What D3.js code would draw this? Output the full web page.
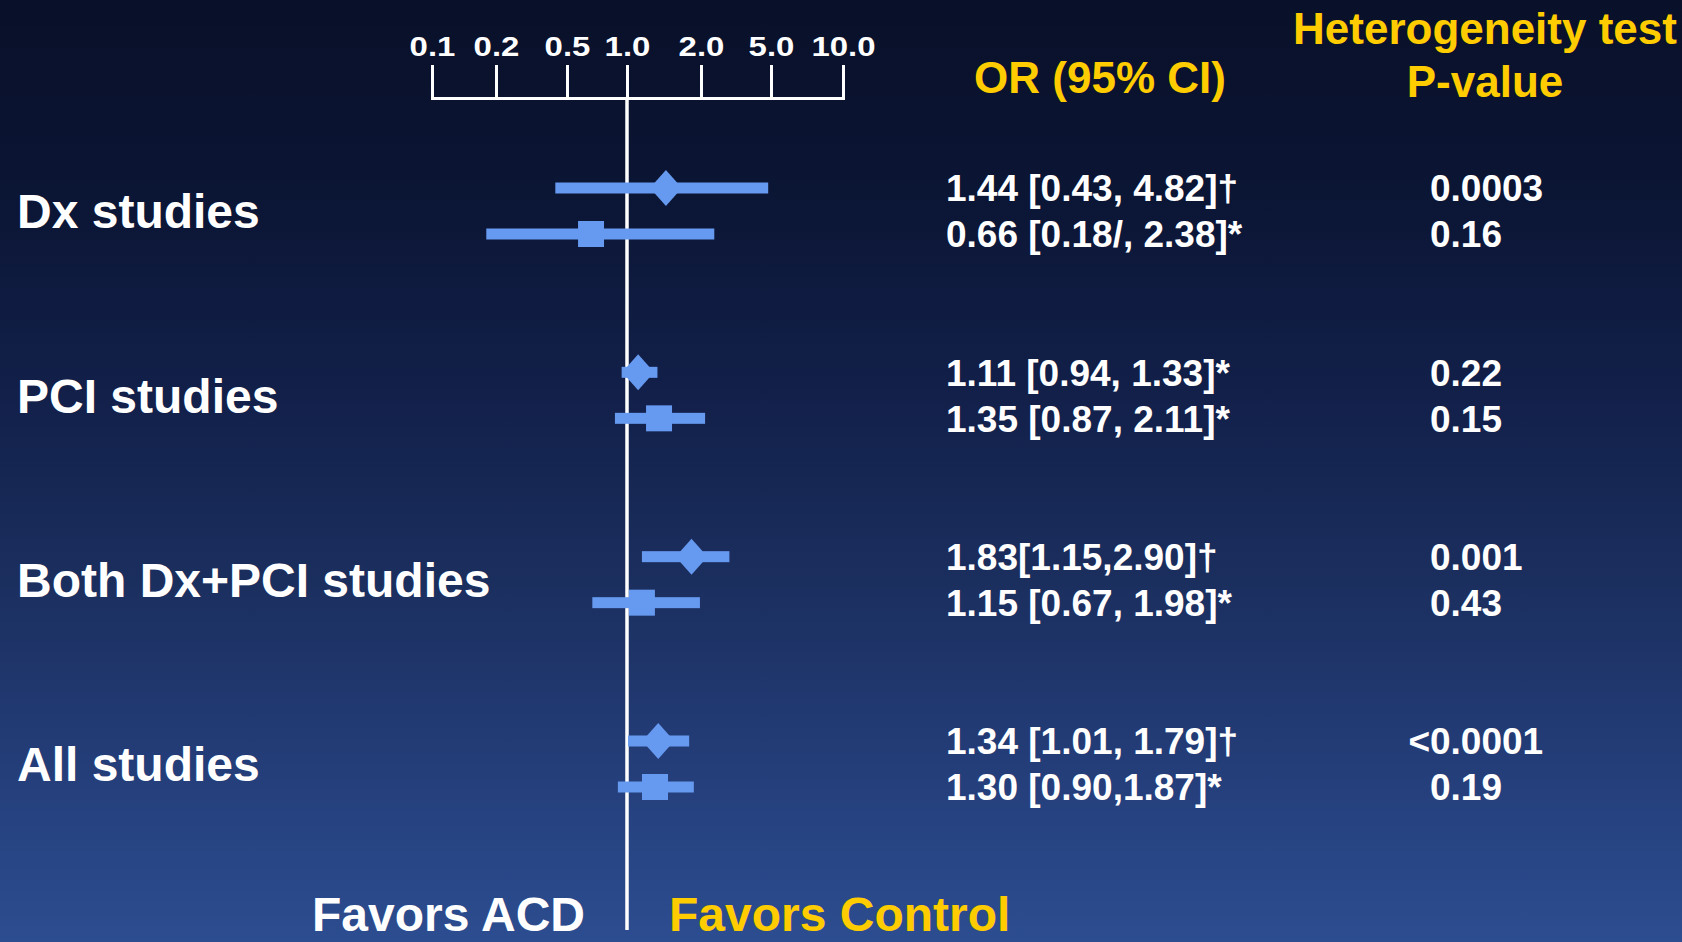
<!DOCTYPE html>
<html>
<head>
<meta charset="utf-8">
<script src="https://cdn.jsdelivr.net/npm/d3@7"></script>
<style>
  html, body { margin: 0; padding: 0; background: #0a1230; }
  svg { display: block; }
  text { font-family: "Liberation Sans", Arial, sans-serif; font-weight: bold; }
</style>
</head>
<body>
<svg id="chart" width="1682" height="942"></svg>
<script>
// Study groups and per-row odds ratios with 95% confidence intervals
const groups = ["Dx studies", "PCI studies", "Both Dx+PCI studies", "All studies"];
const rowGroup = [0, 0, 1, 1, 2, 2, 3, 3];
const rowShape = ["diamond", "square", "diamond", "square", "diamond", "square", "diamond", "square"];
const estimates = [1.44, 0.66, 1.11, 1.35, 1.83, 1.15, 1.34, 1.30];
const lower = [0.43, 0.18, 0.94, 0.87, 1.15, 0.67, 1.01, 0.90];
const upper = [4.82, 2.38, 1.33, 2.11, 2.90, 1.98, 1.79, 1.87];
const orLabels = [
  "1.44 [0.43, 4.82]†", "0.66 [0.18/, 2.38]*",
  "1.11 [0.94, 1.33]*", "1.35 [0.87, 2.11]*",
  "1.83[1.15,2.90]†", "1.15 [0.67, 1.98]*",
  "1.34 [1.01, 1.79]†", "1.30 [0.90,1.87]*"
];
const pValues = ["0.0003", "0.16", "0.22", "0.15", "0.001", "0.43", "<0.0001", "0.19"];
const tickValues = [0.1, 0.2, 0.5, 1, 2, 5, 10];

const W = 1682, H = 942;
const WHITE = "#ffffff", GOLD = "#ffcc00", MARK = "#6699f0";

const svg = d3.select("#chart");

// Background: dark navy at the top fading to a brighter blue at the bottom
const defs = svg.append("defs");
const grad = defs.append("linearGradient").attr("id", "bg")
  .attr("x1", 0).attr("y1", 0).attr("x2", 0).attr("y2", 1);
[[0, "#091029"], [0.2, "#0b1534"], [0.42, "#12204a"], [0.62, "#1b2f5f"], [0.82, "#243e7a"], [1, "#2c4d90"]]
  .forEach(([o, c]) => grad.append("stop").attr("offset", o).attr("stop-color", c));
svg.append("rect").attr("width", W).attr("height", H).attr("fill", "url(#bg)");

// Odds-ratio axis: ticks are placed at hand-set stops, log-interpolated between them
const x = d3.scaleLog()
  .domain(tickValues)
  .range([432, 496, 567, 627, 701, 771, 843]);

// Rows: each group has two result lines
const yGroup = d3.scalePoint().domain(d3.range(groups.length)).range([211, 764]);
const rowOffset = 23;
const rowY = i => yGroup(rowGroup[i]) + (i % 2 === 0 ? -rowOffset : rowOffset);

// Axis bracket at the top
const axisY = 98;
const axis = d3.axisTop(x)
  .tickValues(tickValues)
  .tickSize(33)
  .tickSizeOuter(33)
  .tickPadding(9)
  .tickFormat(d3.format(".1f"));
const gAxis = svg.append("g").attr("transform", `translate(0,${axisY})`).call(axis);
gAxis.select(".domain").attr("stroke", WHITE).attr("stroke-width", 3).attr("fill", "none");
gAxis.selectAll(".tick line").attr("stroke", WHITE).attr("stroke-width", 3);
gAxis.selectAll(".tick text")
  .attr("fill", WHITE)
  .attr("font-size", 27)
  .attr("font-weight", "bold")
  .attr("font-family", "'Liberation Sans', Arial, sans-serif")
  .attr("transform", "scale(1.22,1)");

// Line of no effect (OR = 1)
svg.append("line")
  .attr("x1", x(1)).attr("x2", x(1))
  .attr("y1", axisY).attr("y2", 930)
  .attr("stroke", WHITE).attr("stroke-width", 3.5);

// Confidence intervals
const rows = d3.range(estimates.length);
const ciH = 11;
svg.append("g").selectAll("rect.ci").data(rows).join("rect")
  .attr("class", "ci")
  .attr("x", i => x(lower[i]))
  .attr("width", i => x(upper[i]) - x(lower[i]))
  .attr("y", i => rowY(i) - ciH / 2)
  .attr("height", ciH)
  .attr("fill", MARK);

// Point estimates: diamonds and squares
const dHalfW = 16, dHalfH = 18, sq = 26;
svg.append("g").selectAll("path.pt").data(rows).join("path")
  .attr("class", "pt")
  .attr("fill", MARK)
  .attr("d", i => {
    const cx = x(estimates[i]), cy = rowY(i);
    if (rowShape[i] === "diamond") {
      return `M${cx},${cy - dHalfH}L${cx + dHalfW},${cy}L${cx},${cy + dHalfH}L${cx - dHalfW},${cy}Z`;
    }
    const h = sq / 2;
    return `M${cx - h},${cy - h}H${cx + h}V${cy + h}H${cx - h}Z`;
  });

// Group labels
svg.append("g").selectAll("text").data(groups).join("text")
  .attr("x", 17)
  .attr("y", (d, i) => yGroup(i))
  .attr("dy", "0.36em")
  .attr("fill", WHITE)
  .attr("font-size", 48)
  .text(d => d);

// Column headers
svg.append("text").attr("x", 1100).attr("y", 93)
  .attr("text-anchor", "middle").attr("fill", GOLD).attr("font-size", 44)
  .text("OR (95% CI)");
svg.append("text").attr("x", 1485).attr("y", 44)
  .attr("text-anchor", "middle").attr("fill", GOLD).attr("font-size", 44)
  .text("Heterogeneity test");
svg.append("text").attr("x", 1485).attr("y", 97)
  .attr("text-anchor", "middle").attr("fill", GOLD).attr("font-size", 44)
  .text("P-value");

// OR (95% CI) column
svg.append("g").selectAll("text").data(orLabels).join("text")
  .attr("x", 946)
  .attr("y", (d, i) => rowY(i))
  .attr("dy", "0.36em")
  .attr("fill", WHITE)
  .attr("font-size", 37)
  .text(d => d);

// Heterogeneity p-values; a leading "<" hangs to the left of the column edge
const pX = 1430;
const pText = svg.append("g").selectAll("text").data(pValues).join("text")
  .attr("x", pX)
  .attr("y", (d, i) => rowY(i))
  .attr("dy", "0.36em")
  .attr("fill", WHITE)
  .attr("font-size", 37)
  .text(d => d);
pText.filter(d => d.startsWith("<")).each(function () {
  const node = this;
  const w = node.getSubStringLength(0, 1);
  d3.select(node).attr("x", pX - w);
});

// Direction captions beneath the axis
svg.append("text").attr("x", x(1) - 42).attr("y", 931)
  .attr("text-anchor", "end").attr("fill", WHITE).attr("font-size", 48)
  .text("Favors ACD");
svg.append("text").attr("x", x(1) + 42).attr("y", 931)
  .attr("fill", GOLD).attr("font-size", 48)
  .text("Favors Control");
</script>
</body>
</html>
